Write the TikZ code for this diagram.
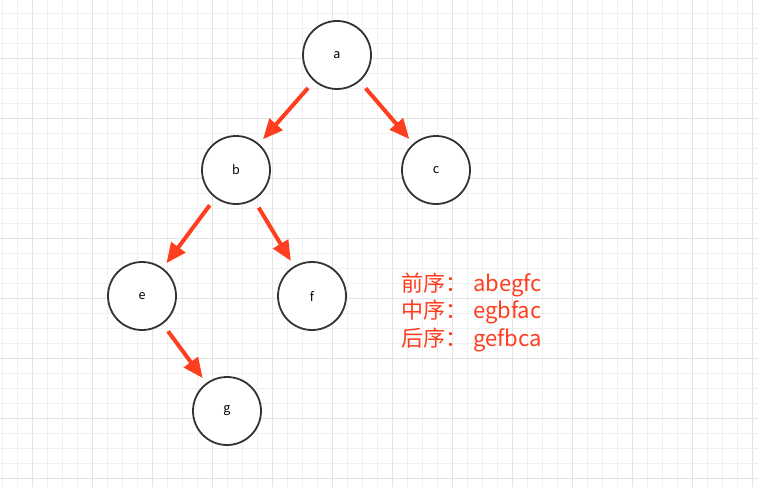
\documentclass[tikz,border=0pt]{standalone}
\usepackage{fontspec}
\setmainfont{Noto Sans CJK SC}
\usetikzlibrary{arrows.meta,positioning}
\definecolor{gridminor}{HTML}{EFEFEF}
\definecolor{gridmajor}{HTML}{E3E3E3}
\definecolor{redarrow}{HTML}{FF3D1F}
\definecolor{ringgray}{HTML}{333333}

\begin{document}
\begin{tikzpicture}[x=1pt, y=-1pt, node distance={115pt}, on grid,
  main/.style = {draw=ringgray, circle, line width=1.8pt, fill=white, minimum size=68pt, inner sep=0pt, font=\fontsize{12.5}{14}\selectfont},
  edge/.style = {draw=redarrow, line width=4pt, -{Triangle[length=20pt, width=17pt]}, shorten <=9pt, shorten >=6pt},
  order/.style = {anchor=base west, text=redarrow, inner sep=0pt, font=\fontsize{22}{24}\selectfont}]
\useasboundingbox (0,0) rectangle (758,487);
% background grid
\foreach \x in {2.5,17.5,...,752.5} \draw[gridminor, line width=1pt] (\x,0) -- (\x,487);
\foreach \y in {13.3,28.3,...,478.3} \draw[gridminor, line width=1pt] (0,\y) -- (758,\y);
\foreach \x in {32.5,92.5,...,752.5} \draw[gridmajor, line width=1pt] (\x,0) -- (\x,487);
\foreach \y in {58.3,118.3,...,478.3} \draw[gridmajor, line width=1pt] (0,\y) -- (758,\y);
% tree
\node[main] (a) at (337,55) {a};
\node[main] (b) [below left=115pt and 101pt of a] {b};
\node[main] (c) [below right=115pt and 99pt of a] {c};
\node[main] (e) [below left=126pt and 94pt of b] {e};
\node[main] (f) [below right=126pt and 76pt of b] {f};
\node[main] (g) [below right=115pt and 85pt of e] {g};
\draw[edge] (a) -- (b);
\draw[edge] (a) -- (c);
\draw[edge] (b) -- (e);
\draw[edge] (b) -- (f);
\draw[edge] (e) -- (g);
% traversal orders
\node[order] (pre) at (401,291) {前序：\hspace{6pt}abegfc};
\node[order] (mid) at (401,318.5) {中序：\hspace{6pt}egbfac};
\node[order] (post) at (401,346) {后序：\hspace{6pt}gefbca};
\end{tikzpicture}
\end{document}
